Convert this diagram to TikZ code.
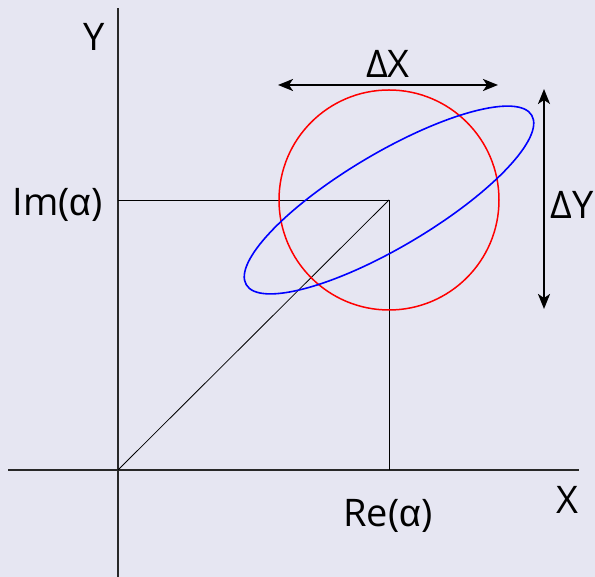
\documentclass[tikz,border=0pt]{standalone}
\usepackage{fontspec}
\setmainfont{Open Sans}
\newfontfamily\alphafont{Liberation Sans}
\newcommand{\myalpha}{{\alphafont α}}
\usetikzlibrary{arrows.meta}
\definecolor{bg}{RGB}{230,230,242}
\definecolor{axis}{RGB}{40,40,40}
\begin{document}
\begin{tikzpicture}[x=1pt,y=1pt,
  axisline/.style={draw=axis,line width=1.8pt},
  thin/.style={draw=black,line width=0.8pt},
  dimarrow/.style={draw=black,line width=2.2pt,{Stealth[length=15pt,width=12pt,inset=4pt]}-{Stealth[length=15pt,width=12pt,inset=4pt]}},
  lbl/.style={font=\fontsize{38}{40}\selectfont,inner sep=0pt}]
\fill[bg] (0,0) rectangle (595,577);
\useasboundingbox (0,0) rectangle (595,577);
\coordinate (O) at (118,107);
\coordinate (ytop) at (118,569);
\coordinate (ybot) at (118,0);
\coordinate (xl) at (8,107);
\coordinate (xr) at (579,107);
\coordinate (A) at (389,377);
\coordinate (imf) at (118,377);
\coordinate (ref) at (389,107);
\coordinate (dxl) at (278,492);
\coordinate (dxr) at (498,492);
\coordinate (dyt) at (544,488);
\coordinate (dyb) at (544,268);
\draw[axisline] (ybot) -- (ytop);
\draw[axisline] (xl) -- (xr);
\draw[thin] (imf) -- (A) -- (ref);
\draw[thin] (O) -- (A);
\draw[red,line width=1.5pt] (A) circle (110);
\draw[blue,line width=1.6pt,rotate around={30.7:(A)}] (A) ellipse [x radius=166, y radius=47];
\draw[dimarrow] (dxl) -- (dxr);
\draw[dimarrow] (dyt) -- (dyb);
\node[lbl] (ldx) at (388,513) {ΔX};
\node[lbl] (ldy) at (572,372) {ΔY};
\node[lbl] (ly) at (94,540) {Y};
\node[lbl,anchor=east] (lim) at (103,372) {Im(\myalpha)};
\node[lbl] (lre) at (388,61) {Re(\myalpha)};
\node[lbl] (lx) at (567,77) {X};
\end{tikzpicture}
\end{document}
